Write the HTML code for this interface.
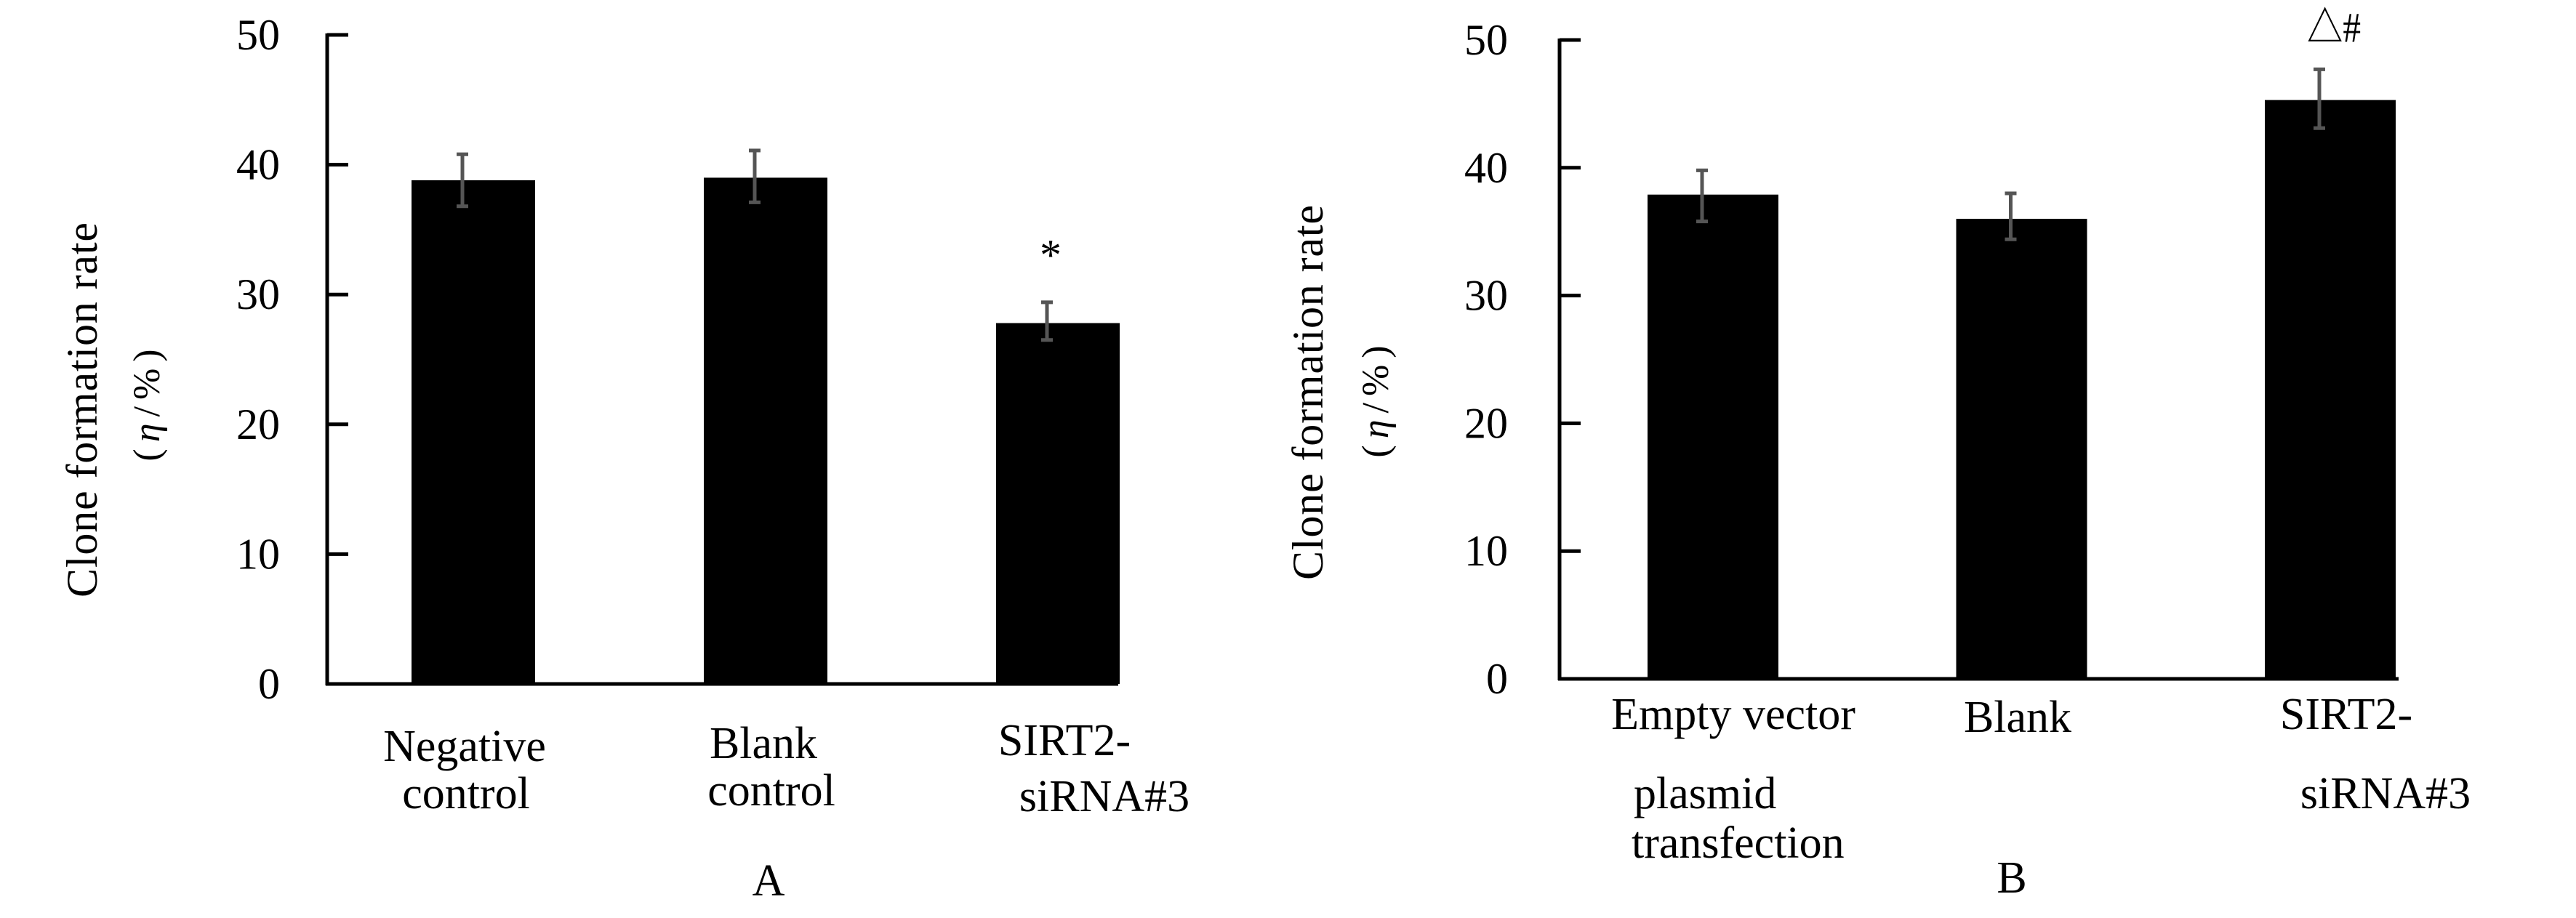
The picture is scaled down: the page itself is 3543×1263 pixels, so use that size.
<!DOCTYPE html>
<html><head><meta charset="utf-8"><style>
html,body{margin:0;padding:0;background:#fff;}
svg{display:block;}
text{font-family:"Liberation Serif","Noto Serif CJK SC",serif;fill:#000;}
</style></head><body>
<svg id="fig" width="3543" height="1263" viewBox="0 0 3543 1263" xmlns="http://www.w3.org/2000/svg">
<rect width="3543" height="1263" fill="#fff"/>
<text x="0" y="0" font-size="60" text-anchor="middle" transform="translate(133,564) rotate(-90)" textLength="516">Clone formation rate</text>
<text x="0" y="0" font-size="52" letter-spacing="9" text-anchor="middle" transform="translate(219,553) rotate(-90)">(<tspan font-style="italic">η</tspan>/%)</text>
<text x="0" y="0" font-size="60" text-anchor="middle" transform="translate(1819,540) rotate(-90)" textLength="516">Clone formation rate</text>
<text x="0" y="0" font-size="52" letter-spacing="9" text-anchor="middle" transform="translate(1909,548) rotate(-90)">(<tspan font-style="italic">η</tspan>/%)</text>

<text x="639" y="1047" font-size="62" text-anchor="middle">Negative</text>
<text x="641" y="1112" font-size="62" text-anchor="middle">control</text>
<text x="1050" y="1043" font-size="62" text-anchor="middle">Blank</text>
<text x="1061" y="1108" font-size="62" text-anchor="middle">control</text>
<text x="1464" y="1039" font-size="62" text-anchor="middle">SIRT2-</text>
<text x="1519" y="1116" font-size="62" text-anchor="middle">siRNA#3</text>
<text x="1057" y="1232" font-size="62" text-anchor="middle">A</text>

<text x="2384" y="1003" font-size="62" text-anchor="middle">Empty vector</text>
<text x="2247" y="1112" font-size="62">plasmid</text>
<text x="2244" y="1180" font-size="62">transfection</text>
<text x="2775" y="1007" font-size="62" text-anchor="middle">Blank</text>
<text x="3227" y="1003" font-size="62" text-anchor="middle">SIRT2-</text>
<text x="3281" y="1112" font-size="62" text-anchor="middle">siRNA#3</text>
<text x="2767" y="1228" font-size="62" text-anchor="middle">B</text>
</svg>
<script>
const ticks = [0, 10, 20, 30, 40, 50];
const tickLabels = ["0", "10", "20", "30", "40", "50"];
const categoriesA = ["Negative control", "Blank control", "SIRT2-siRNA#3"];
const valuesA = [38.8, 39.0, 27.8];
const errUpA = [40.8, 41.1, 29.4];
const errLoA = [36.8, 37.1, 26.5];
const marksA = ["", "", "*"];
const categoriesB = ["Empty vector plasmid transfection", "Blank", "SIRT2-siRNA#3"];
const valuesB = [37.9, 36.0, 45.3];
const errUpB = [39.8, 38.0, 47.7];
const errLoB = [35.8, 34.4, 43.1];
const marksB = ["", "", "△#"];

const NS = "http://www.w3.org/2000/svg";
const svg = document.getElementById('fig');
function mk(tag, attrs) {
  const e = document.createElementNS(NS, tag);
  for (const k in attrs) e.setAttribute(k, attrs[k]);
  svg.appendChild(e);
  return e;
}
function panel(p, cats, vals, up, lo, marks, tag) {
  const y = v => p.y0 - (v / 50) * (p.y0 - p.y50);
  const bx = i => p.first + i * p.step;
  let e = mk('line', {x1: p.ax, y1: y(50) - 2, x2: p.ax, y2: p.y0 + 2, stroke: '#000', 'stroke-width': 5});
  
  
  e = mk('line', {x1: p.ax - 2, y1: p.y0, x2: p.xend, y2: p.y0, stroke: '#000', 'stroke-width': 5});
  
  
  ticks.forEach((t, i) => {
    let l = mk('line', {x1: p.ax, y1: y(t), x2: p.ax + 29, y2: y(t), stroke: '#000', 'stroke-width': 5});
    
    
    let tx = mk('text', {x: p.lx, y: y(t) + 20, 'font-size': 60, 'text-anchor': 'end'});
    tx.textContent = tickLabels[i];
    
    
  });
  cats.forEach((c, i) => {
    const x = bx(i);
    let r = mk('rect', {x: x, y: y(vals[i]), width: p.bw, height: p.y0 - y(vals[i]), fill: '#000'});
    
    
    const cx = x + p.bw * 0.5 - 15;
    let eb = mk('path', {d: `M${cx},${y(up[i])}V${y(lo[i])}M${cx-8},${y(up[i])}H${cx+8}M${cx-8},${y(lo[i])}H${cx+8}`, stroke: '#555', 'stroke-width': 5, fill: 'none'});
    
    
    if (marks[i]) {
      let m = tag === 'a'
        ? mk('text', {x: cx + 5, y: y(up[i]) - 45, 'font-size': 60, 'text-anchor': 'middle'})
        : mk('text', {x: cx + 20, y: y(up[i]) - 38, 'font-size': 58, 'text-anchor': 'middle', textLength: 74, lengthAdjust: 'spacingAndGlyphs'});
      m.textContent = marks[i];
      
      
    }
  });
}
panel({ax: 450, y0: 941, y50: 48, first: 566, step: 402, bw: 170, xend: 1538, lx: 385}, categoriesA, valuesA, errUpA, errLoA, marksA, 'a');
panel({ax: 2145, y0: 934, y50: 55, first: 2266, step: 424.5, bw: 180, xend: 3299, lx: 2074}, categoriesB, valuesB, errUpB, errLoB, marksB, 'b');
</script>
</body></html>
